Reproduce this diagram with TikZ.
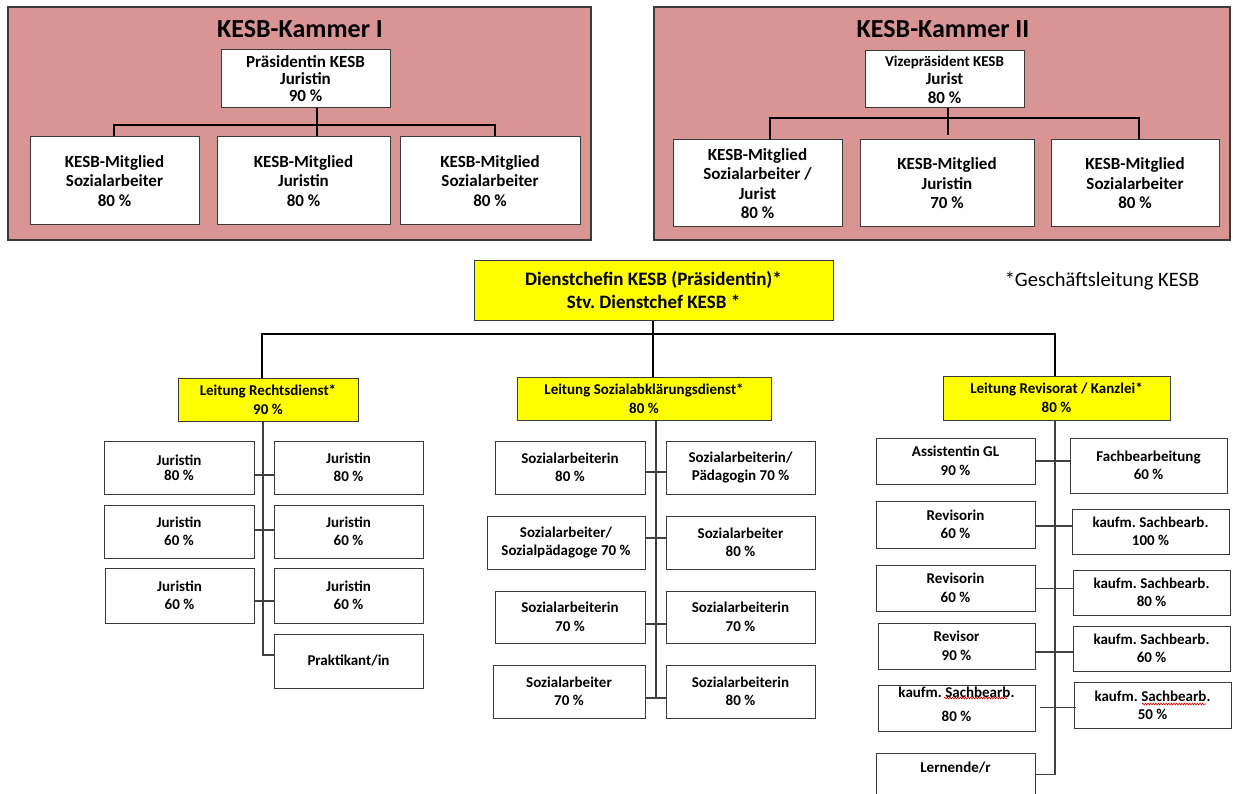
\documentclass[tikz,border=0pt]{standalone}
\usepackage{fontspec}
\setmainfont{Carlito}
\usetikzlibrary{decorations.pathmorphing}
\definecolor{panelfill}{HTML}{D99594}
\definecolor{boxline}{HTML}{3A3A3A}
\definecolor{yel}{HTML}{FFFF00}
\newcommand\kfT{\fontsize{26}{30}\selectfont\bfseries}
\newcommand\kfK{\fontsize{17}{19.5}\selectfont\bfseries}
\newcommand\kfD{\fontsize{19}{22.4}\selectfont\bfseries}
\newcommand\kfL{\fontsize{15}{19}\selectfont\bfseries}
\newcommand\kfS{\fontsize{15}{18.5}\selectfont\bfseries}
\newcommand\kfN{\fontsize{20.5}{24}\selectfont}
\newcommand\bx[7][]{\node[wbox,#1,minimum width={(#5-#3)*1pt},minimum height={(#6-#4)*1pt}] (#2) at ({(#3+#5)/2},{(#4+#6)/2}) {#7};}
\begin{document}
\frenchspacing
\begin{tikzpicture}[x=1pt,y=-1pt,
  wbox/.style={draw=boxline,fill=white,line width=1pt,inner sep=0pt,align=center,font=\kfS},
  kbox/.style={font=\kfK},
  panelbox/.style={fill=panelfill,line width=1.3pt},
  ybox/.style={fill=yel,font=\kfL},
  kline/.style={line width=2.5pt,black},
  tline/.style={line width=2.2pt,black},
  sub/.style={line width=1.1pt,draw=black!75},
  squig/.style={draw=red!85!black,line width=0.6pt,decorate,decoration={snake,amplitude=0.9pt,segment length=2.6pt}}]
\useasboundingbox (0,0) rectangle (1233,794);

% ---------- Kammer I ----------
\bx[panelbox]{kam1}{8}{7}{591}{240}{}
\node[font=\kfT,anchor=base] (t1) at (300,37.5) {KESB-Kammer I};
\bx[kbox,font={\fontsize{17}{17}\selectfont\bfseries}]{p1}{221}{50}{390}{108}{Präsidentin KESB\\Juristin\\90 \%}
\bx[kbox]{k1a}{30}{137}{199}{225}{KESB-Mitglied\\Sozialarbeiter\\80 \%}
\bx[kbox]{k1b}{217}{137}{390}{225}{KESB-Mitglied\\Juristin\\80 \%}
\bx[kbox]{k1c}{400}{137}{580}{225}{KESB-Mitglied\\Sozialarbeiter\\80 \%}
\coordinate (h1) at (317,125);
\coordinate (h1l) at (114,125);
\coordinate (h1r) at (495,125);
\draw[kline] (p1.south -| h1) -- (k1b.north -| h1);
\draw[kline] (k1a.north -| h1l) -- (h1l) -- (h1r) -- (k1c.north -| h1r);

% ---------- Kammer II ----------
\bx[panelbox]{kam2}{654}{7}{1230}{240}{}
\node[font=\kfT,anchor=base] (t2) at (943,37.5) {KESB-Kammer II};
\bx[kbox,font={\fontsize{17}{18.5}\selectfont\bfseries}]{p2}{865}{51}{1024}{108}{{\fontsize{15}{18.5}\selectfont Vizepräsident KESB}\\Jurist\\80 \%}
\bx[kbox]{k2a}{673}{140}{842}{227}{KESB-Mitglied\\Sozialarbeiter /\\Jurist\\80 \%}
\bx[kbox]{k2b}{860}{140}{1034}{227}{KESB-Mitglied\\Juristin\\70 \%}
\bx[kbox]{k2c}{1051}{140}{1219}{227}{KESB-Mitglied\\Sozialarbeiter\\80 \%}
\coordinate (h2) at (948,118);
\coordinate (h2l) at (770,118);
\coordinate (h2r) at (1139,118);
\draw[kline,shorten >=4pt] (p2.south -| h2) -- (k2b.north -| h2);
\draw[kline] (k2a.north -| h2l) -- (h2l) -- (h2r) -- (k2c.north -| h2r);

% ---------- Dienstchefin ----------
\bx[fill=yel,font=\kfD]{d}{474}{260}{833}{320}{Dienstchefin KESB (Präsidentin)*\\Stv. Dienstchef KESB *}
\node[font=\kfN] (note) at (1102,281) {*Geschäftsleitung KESB};

\bx[ybox]{L1}{178}{378}{358}{421}{Leitung Rechtsdienst*\\90 \%}
\bx[ybox]{L2}{517}{377}{771}{420}{Leitung Sozialabklärungsdienst*\\80 \%}
\bx[ybox]{L3}{943}{376}{1170}{420}{Leitung Revisorat / Kanzlei*\\80 \%}
\coordinate (t0) at (653,334);
\coordinate (tl) at (262,334);
\coordinate (tr) at (1055,334);
\draw[tline] (d.south -| t0) -- (L2.north -| t0);
\draw[tline] (L1.north -| tl) -- (tl) -- (tr) -- (L3.north -| tr);

% ---------- Rechtsdienst ----------
\bx[font={\fontsize{15}{15}\selectfont\bfseries}]{a1}{104}{441}{254}{494}{Juristin\\80 \%}
\bx{b1}{274}{441}{423}{494}{Juristin\\80 \%}
\bx{a2}{104}{505}{254}{558}{Juristin\\60 \%}
\bx{b2}{274}{505}{423}{558}{Juristin\\60 \%}
\bx{a3}{105}{568}{254}{623}{Juristin\\60 \%}
\bx{b3}{274}{568}{423}{623}{Juristin\\60 \%}
\bx{b4}{274}{634}{423}{688}{Praktikant/in}
\coordinate (l1) at (263,475);
\coordinate (l2) at (263,530);
\coordinate (l3) at (263,601);
\coordinate (l4) at (263,655);
\draw[sub] (L1.south -| l1) -- (l4) -- (b4.west |- l4);
\draw[sub] (a1.east |- l1) -- (b1.west |- l1);
\draw[sub] (a2.east |- l2) -- (b2.west |- l2);
\draw[sub] (a3.east |- l3) -- (b3.west |- l3);

% ---------- Sozialabklaerungsdienst ----------
\bx{c1}{495}{441}{645}{494}{Sozialarbeiterin\\80 \%}
\bx{d1}{666}{441}{815}{494}{Sozialarbeiterin/\\Pädagogin 70 \%}
\bx{c2}{487}{516}{645}{569}{Sozialarbeiter/\\Sozialpädagoge 70 \%}
\bx{d2}{666}{516}{815}{569}{Sozialarbeiter\\80 \%}
\bx{c3}{495}{591}{645}{643}{Sozialarbeiterin\\70 \%}
\bx{d3}{666}{591}{815}{643}{Sozialarbeiterin\\70 \%}
\bx{c4}{493}{665}{645}{718}{Sozialarbeiter\\70 \%}
\bx{d4}{666}{665}{815}{718}{Sozialarbeiterin\\80 \%}
\coordinate (m1) at (656,472);
\coordinate (m2) at (656,538);
\coordinate (m3) at (656,624);
\coordinate (m4) at (656,698);
\draw[sub] (L2.south -| m1) -- (m4);
\draw[sub] (c1.east |- m1) -- (d1.west |- m1);
\draw[sub] (c2.east |- m2) -- (d2.west |- m2);
\draw[sub] (c3.east |- m3) -- (d3.west |- m3);
\draw[sub] (c4.east |- m4) -- (d4.west |- m4);

% ---------- Revisorat / Kanzlei ----------
\bx{e1}{876}{438}{1035}{484}{Assistentin GL\\90 \%}
\bx{f1}{1070}{438}{1227}{493}{Fachbearbeitung\\60 \%}
\bx{e2}{876}{501}{1035}{548}{Revisorin\\60 \%}
\bx{f2}{1072}{509}{1229}{554}{kaufm. Sachbearb.\\100 \%}
\bx{e3}{876}{565}{1035}{611}{Revisorin\\60 \%}
\bx{f3}{1073}{570}{1230}{615}{kaufm. Sachbearb.\\80 \%}
\bx{e4}{878}{623}{1035}{669}{Revisor\\90 \%}
\bx{f4}{1073}{626}{1230}{671}{kaufm. Sachbearb.\\60 \%}
\bx[font={\fontsize{15}{24}\selectfont\bfseries},text depth=8pt]{e5}{878}{685}{1035}{731}{kaufm. Sachbearb.\\80 \%}
\bx[font={\fontsize{15}{17.6}\selectfont\bfseries}]{f5}{1074}{682}{1231}{728}{kaufm. Sachbearb.\\50 \%}
\bx[text depth=30pt]{e6}{876}{753}{1035}{812}{Lernende/r}
\coordinate (r1) at (1055,461);
\coordinate (r2) at (1055,526);
\coordinate (r3) at (1055,588.5);
\coordinate (r4) at (1055,652);
\coordinate (r5) at (1055,707.5);
\coordinate (r6) at (1055,774.5);
\draw[sub] (L3.south -| r1) -- (r6) -- (e6.east |- r6);
\draw[sub] (e1.east |- r1) -- (f1.west |- r1);
\draw[sub] (e2.east |- r2) -- (f2.west |- r2);
\draw[sub] (e3.east |- r3) -- (f3.west |- r3);
\draw[sub] (e4.east |- r4) -- (f4.west |- r4);
\draw[sub] ([xshift=4pt]e5.east |- r5) -- ([xshift=2pt]f5.west |- r5);
\draw[squig] (944,698) -- (1007,698);
\draw[squig] (1142,704) -- (1206,704);
\end{tikzpicture}
\end{document}
